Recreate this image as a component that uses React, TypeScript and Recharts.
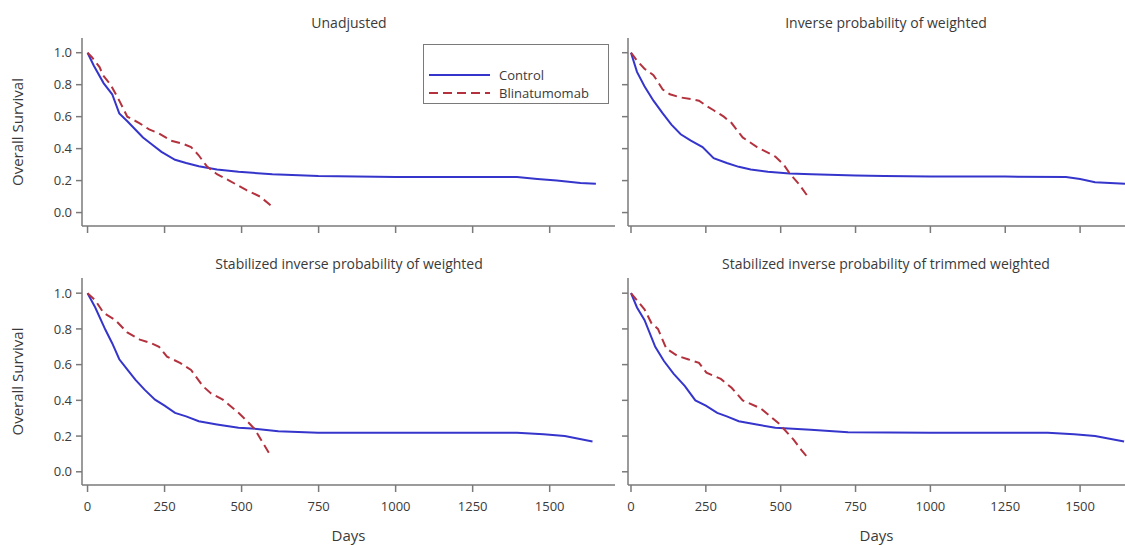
import { LineChart, Line, XAxis, YAxis, Legend } from 'recharts';

// ---- shared ticks ----
const dayTicks = [0, 250, 500, 750, 1000, 1250, 1500];
const survTicks = [0, 0.2, 0.4, 0.6, 0.8, 1.0];
const legendOrder = ['Control', 'Blinatumomab'];

// ---- Unadjusted ----
const unadjControlDays = [0, 20, 52, 80, 103, 130, 155, 180, 206, 240, 284, 320, 361, 420, 490, 600, 749, 1000, 1250, 1394, 1460, 1523, 1600, 1650];
const unadjControlSurv = [1.0, 0.92, 0.81, 0.74, 0.62, 0.57, 0.52, 0.47, 0.43, 0.38, 0.33, 0.31, 0.29, 0.27, 0.255, 0.24, 0.228, 0.223, 0.223, 0.222, 0.21, 0.2, 0.185, 0.18];
const unadjBlinaDays = [0, 15, 39, 50, 75, 103, 129, 168, 200, 232, 271, 310, 336, 360, 387, 420, 460, 516, 560, 594];
const unadjBlinaSurv = [1.0, 0.97, 0.91, 0.86, 0.8, 0.7, 0.6, 0.56, 0.52, 0.495, 0.45, 0.43, 0.41, 0.36, 0.29, 0.24, 0.2, 0.14, 0.1, 0.046];

// ---- Inverse probability of weighted ----
const ipwControlDays = [0, 20, 45, 75, 106, 135, 166, 200, 239, 276, 320, 360, 400, 457, 530, 603, 750, 846, 1000, 1250, 1453, 1500, 1550, 1650];
const ipwControlSurv = [1.0, 0.88, 0.79, 0.7, 0.62, 0.55, 0.49, 0.45, 0.41, 0.34, 0.31, 0.286, 0.27, 0.255, 0.245, 0.24, 0.232, 0.228, 0.226, 0.225, 0.222, 0.21, 0.19, 0.18];
const ipwBlinaDays = [0, 20, 45, 75, 106, 130, 166, 200, 227, 250, 276, 310, 336, 373, 421, 482, 510, 530, 560, 591];
const ipwBlinaSurv = [1.0, 0.95, 0.9, 0.86, 0.77, 0.74, 0.72, 0.71, 0.7, 0.67, 0.64, 0.6, 0.56, 0.47, 0.41, 0.35, 0.3, 0.245, 0.18, 0.1];

// ---- Stabilized inverse probability of weighted ----
const sipwControlDays = [0, 25, 58, 80, 103, 130, 155, 185, 219, 250, 284, 320, 361, 420, 490, 550, 619, 748, 1000, 1250, 1394, 1480, 1549, 1639];
const sipwControlSurv = [1.0, 0.92, 0.795, 0.72, 0.63, 0.57, 0.516, 0.46, 0.404, 0.37, 0.33, 0.31, 0.283, 0.265, 0.246, 0.24, 0.227, 0.218, 0.218, 0.218, 0.218, 0.21, 0.2, 0.17];
const sipwBlinaDays = [0, 25, 52, 90, 129, 170, 206, 232, 258, 300, 336, 374, 400, 439, 490, 520, 542, 570, 594];
const sipwBlinaSurv = [1.0, 0.96, 0.89, 0.85, 0.78, 0.74, 0.72, 0.7, 0.645, 0.61, 0.57, 0.48, 0.44, 0.404, 0.33, 0.28, 0.24, 0.16, 0.09];

// ---- Stabilized inverse probability of trimmed weighted ----
const trimControlDays = [0, 20, 45, 81, 110, 142, 180, 215, 250, 288, 320, 360, 420, 482, 600, 725, 1000, 1250, 1392, 1480, 1550, 1647];
const trimControlSurv = [1.0, 0.92, 0.85, 0.7, 0.62, 0.55, 0.48, 0.4, 0.37, 0.33, 0.31, 0.283, 0.265, 0.246, 0.235, 0.222, 0.218, 0.218, 0.218, 0.21, 0.2, 0.17];
const trimBlinaDays = [0, 20, 45, 69, 90, 118, 154, 190, 227, 252, 300, 336, 373, 433, 494, 543, 570, 591];
const trimBlinaSurv = [1.0, 0.96, 0.91, 0.83, 0.8, 0.69, 0.65, 0.63, 0.61, 0.555, 0.52, 0.47, 0.4, 0.355, 0.27, 0.18, 0.12, 0.078];

const toPoints = (days: number[], surv: number[]) => days.map((d, i) => ({ day: d, surv: surv[i] }));

const BLUE = '#3535cc';
const RED = '#b3323e';
const AXIS = '#7a7a7a';
const TEXT = '#3a3a3a';
const FONT = "'Open Sans', sans-serif";

const LegendBox = ({ payload }: any) => {
  const items = [...(payload || [])].sort(
    (a: any, b: any) => legendOrder.indexOf(a.value) - legendOrder.indexOf(b.value),
  );
  return (
    <div
      style={{
        width: 186,
        height: 60,
        boxSizing: 'border-box',
        border: `1.5px solid ${AXIS}`,
        background: '#fff',
        paddingTop: 21,
        paddingLeft: 5,
        fontFamily: FONT,
      }}
    >
      {items.map((entry: any) => (
        <div key={entry.value} style={{ display: 'flex', alignItems: 'center', height: 18 }}>
          <svg width={61} height={6}>
            <line
              x1={0}
              y1={3}
              x2={61}
              y2={3}
              stroke={entry.color}
              strokeWidth={2}
              strokeDasharray={entry.payload?.strokeDasharray}
            />
          </svg>
          <span style={{ marginLeft: 9, fontSize: 13, lineHeight: '18px', color: TEXT }}>{entry.value}</span>
        </div>
      ))}
    </div>
  );
};

interface PanelProps {
  left: number;
  top: number;
  width: number;
  height: number;
  marginTop: number;
  yAxisWidth: number;
  xAxisHeight: number;
  xDomain: [number, number];
  yDomain: [number, number];
  control: { day: number; surv: number }[];
  blina: { day: number; surv: number }[];
  yLabels: boolean;
  xLabels: boolean;
  legend?: boolean;
}

function Panel(p: PanelProps) {
  return (
    <div style={{ position: 'absolute', left: p.left, top: p.top }}>
      <LineChart
        width={p.width}
        height={p.height}
        margin={{ top: p.marginTop, right: p.left === 0 ? 5 : 0, bottom: 0, left: 0 }}
      >
        <XAxis
          dataKey="day"
          type="number"
          domain={p.xDomain}
          allowDataOverflow
          ticks={dayTicks}
          height={p.xAxisHeight}
          stroke={AXIS}
          strokeWidth={1.5}
          tickSize={7}
          tickMargin={10}
          tick={{ fontSize: 13, fill: TEXT, fontFamily: FONT }}
          tickFormatter={(v: number) => (p.xLabels ? String(v) : '')}
          label={
            p.xLabels
              ? { value: 'Days', position: 'insideBottom', offset: 4, fontSize: 15, fill: TEXT, fontFamily: FONT }
              : undefined
          }
        />
        <YAxis
          type="number"
          domain={p.yDomain}
          allowDataOverflow
          ticks={survTicks}
          width={p.yAxisWidth}
          stroke={AXIS}
          strokeWidth={1.5}
          tickSize={6}
          tickMargin={4}
          tick={{ fontSize: 13, fill: TEXT, fontFamily: FONT }}
          tickFormatter={(v: number) => (p.yLabels ? v.toFixed(1) : '')}
          label={
            p.yLabels
              ? {
                  value: 'Overall Survival',
                  angle: -90,
                  position: 'insideLeft',
                  offset: 18,
                  fontSize: 15,
                  fill: TEXT,
                  fontFamily: FONT,
                  style: { textAnchor: 'middle' },
                }
              : undefined
          }
        />
        {p.legend && (
          <Legend
            layout="vertical"
            align="center"
            verticalAlign="middle"
            content={<LegendBox />}
            wrapperStyle={{ left: 423, top: 44, width: 186, height: 60 }}
          />
        )}
        <Line
          data={p.control}
          dataKey="surv"
          name="Control"
          type="linear"
          stroke={BLUE}
          strokeWidth={2}
          dot={false}
          isAnimationActive={false}
        />
        <Line
          data={p.blina}
          dataKey="surv"
          name="Blinatumomab"
          type="linear"
          stroke={RED}
          strokeWidth={2}
          strokeDasharray="9 5"
          dot={false}
          isAnimationActive={false}
        />
      </LineChart>
    </div>
  );
}

const Title = ({ x, y, children }: { x: number; y: number; children: string }) => (
  <div
    style={{
      position: 'absolute',
      left: x,
      top: y,
      transform: 'translate(-50%, -50%)',
      whiteSpace: 'nowrap',
      fontFamily: FONT,
      fontSize: 14,
      color: TEXT,
    }}
  >
    {children}
  </div>
);

export default function App() {
  const leftX: [number, number] = [-18, 1712];
  const rightX: [number, number] = [-10, 1650];
  const topY: [number, number] = [-0.084, 1.092];
  const botY: [number, number] = [-0.074, 1.085];

  return (
    <div style={{ position: 'absolute', left: 0, top: 0, width: 1125, height: 545, overflow: 'hidden', background: '#fff' }}>
      <Title x={349} y={22}>Unadjusted</Title>
      <Title x={886} y={22}>Inverse probability of weighted</Title>
      <Title x={349} y={263}>Stabilized inverse probability of weighted</Title>
      <Title x={886} y={263}>Stabilized inverse probability of trimmed weighted</Title>

      <Panel
        left={0}
        top={0}
        width={620}
        height={240}
        marginTop={38}
        yAxisWidth={82}
        xAxisHeight={14}
        xDomain={leftX}
        yDomain={topY}
        control={toPoints(unadjControlDays, unadjControlSurv)}
        blina={toPoints(unadjBlinaDays, unadjBlinaSurv)}
        yLabels
        xLabels={false}
        legend
      />
      <Panel
        left={560}
        top={0}
        width={565}
        height={240}
        marginTop={38}
        yAxisWidth={68}
        xAxisHeight={14}
        xDomain={rightX}
        yDomain={topY}
        control={toPoints(ipwControlDays, ipwControlSurv)}
        blina={toPoints(ipwBlinaDays, ipwBlinaSurv)}
        yLabels={false}
        xLabels={false}
      />
      <Panel
        left={0}
        top={262}
        width={620}
        height={283}
        marginTop={16}
        yAxisWidth={82}
        xAxisHeight={60}
        xDomain={leftX}
        yDomain={botY}
        control={toPoints(sipwControlDays, sipwControlSurv)}
        blina={toPoints(sipwBlinaDays, sipwBlinaSurv)}
        yLabels
        xLabels
      />
      <Panel
        left={560}
        top={262}
        width={565}
        height={283}
        marginTop={16}
        yAxisWidth={68}
        xAxisHeight={60}
        xDomain={rightX}
        yDomain={topY === botY ? topY : botY}
        control={toPoints(trimControlDays, trimControlSurv)}
        blina={toPoints(trimBlinaDays, trimBlinaSurv)}
        yLabels={false}
        xLabels
      />
    </div>
  );
}
